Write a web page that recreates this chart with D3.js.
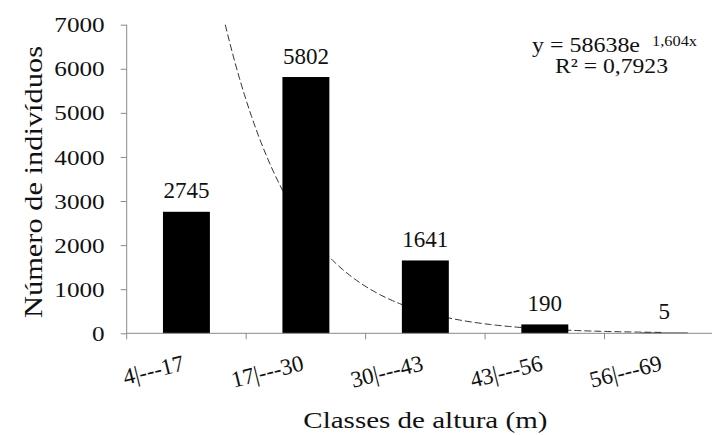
<!DOCTYPE html>
<html>
<head>
<meta charset="utf-8">
<script src="https://cdn.jsdelivr.net/npm/d3@7"></script>
<style>
  html, body { margin: 0; padding: 0; background: #fff; }
  svg { display: block; }
  svg text { font-family: "Liberation Serif", "Times New Roman", Times, serif; fill: #111; }
</style>
</head>
<body>
<svg id="chart" width="712" height="435" font-family="Liberation Serif"></svg>
<script>
// ---- data ----
const categories = ["4|---17", "17|---30", "30|---43", "43|---56", "56|---69"];
const counts = [2745, 5802, 1641, 190, 5];
const yTicks = [0, 1000, 2000, 3000, 4000, 5000, 6000, 7000];
// exponential trendline y = a * e^(b x), x = class index (1..5)
const trendA = 58638;
const trendB = -1.604;
const equationMain = "y = 58638e";
const equationExp = "1,604x";
const rSquaredText = "R² = 0,7923";
const xTitle = "Classes de altura (m)";
const yTitle = "Número de indivíduos";

// ---- layout ----
const FONT = "Liberation Serif";
const svg = d3.select("#chart");
const plot = { left: 126.7, right: 724, top: 24.7, bottom: 333.3 };
const axisColor = "#8a8a8a";

const x = d3.scaleBand()
  .domain(categories)
  .range([plot.left, plot.right])
  .paddingInner(0.607)
  .paddingOuter(0.3035);

const y = d3.scaleLinear().domain([0, 7000]).range([plot.bottom, plot.top]);

const step = x.step();
const gap = step - x.bandwidth();
const centers = categories.map(c => x(c) + x.bandwidth() / 2);
const xNum = d3.scaleLinear().domain([1, categories.length])
  .range([centers[0], centers[categories.length - 1]]);

// ---- trendline (behind bars) ----
const xStart = Math.log(trendA / 7000) / -trendB;
const trendPts = d3.range(xStart, categories.length + 0.0001, 0.02).map(v => [v, trendA * Math.exp(trendB * v)]);
svg.append("path")
  .datum(trendPts)
  .attr("fill", "none")
  .attr("stroke", "#333")
  .attr("stroke-width", 1)
  .attr("stroke-dasharray", "7,3")
  .attr("d", d3.line().x(d => xNum(d[0])).y(d => y(d[1])));

// ---- bars ----
svg.append("g").selectAll("rect")
  .data(categories.map((c, i) => ({ c, v: counts[i] })))
  .join("rect")
  .attr("x", d => x(d.c))
  .attr("width", x.bandwidth())
  .attr("y", d => y(d.v) - 0.5)
  .attr("height", d => y(0) - y(d.v) + 0.5)
  .attr("fill", "#000");

// ---- bar labels ----
svg.append("g").selectAll("text")
  .data(categories.map((c, i) => ({ c, v: counts[i] })))
  .join("text")
  .attr("font-family", FONT)
  .attr("x", d => x(d.c) + x.bandwidth() / 2)
  .attr("y", d => y(d.v) - 14)
  .attr("text-anchor", "middle")
  .attr("font-size", 23)
  .text(d => d.v);

// ---- y axis ----
const yAxis = d3.axisLeft(y).tickValues(yTicks).tickFormat(d3.format("d"))
  .tickSize(6).tickPadding(16).tickSizeOuter(0);
const gy = svg.append("g").attr("transform", `translate(${plot.left},0)`).call(yAxis)
  .attr("font-family", FONT);
gy.select(".domain").attr("stroke", axisColor).attr("d", `M0,${plot.top}V${plot.bottom + 6}`);
gy.selectAll(".tick line").attr("stroke", axisColor);
gy.selectAll(".tick text")
  .attr("font-size", 22)
  .attr("font-family", FONT)
  .attr("fill", "#111")
  .attr("textLength", d => String(d).length * 12.6)
  .attr("lengthAdjust", "spacingAndGlyphs");

// ---- x axis ----
const gx = svg.append("g");
gx.append("line")
  .attr("x1", plot.left).attr("x2", plot.right)
  .attr("y1", plot.bottom).attr("y2", plot.bottom)
  .attr("stroke", axisColor);
const boundaries = categories.map(c => x(c) - gap / 2).slice(1);
gx.selectAll("line.tk").data(boundaries).join("line").attr("class", "tk")
  .attr("x1", d => d).attr("x2", d => d)
  .attr("y1", plot.bottom).attr("y2", plot.bottom + 6)
  .attr("stroke", axisColor);
gx.selectAll("text").data(categories).join("text")
  .attr("font-family", FONT)
  .attr("text-anchor", "end")
  .attr("font-size", 23)
  .attr("transform", c => `translate(${x(c) + x.bandwidth() / 2 - 1},370) rotate(-14)`)
  .text(c => c);

// ---- axis titles ----
svg.append("text")
  .attr("font-family", FONT)
  .attr("x", (plot.left + plot.right) / 2)
  .attr("y", 428)
  .attr("text-anchor", "middle")
  .attr("font-size", 24)
  .attr("textLength", 244)
  .attr("lengthAdjust", "spacingAndGlyphs")
  .text(xTitle);

svg.append("text")
  .attr("font-family", FONT)
  .attr("transform", `translate(42,${(plot.top + plot.bottom) / 2 + 3}) rotate(-90)`)
  .attr("text-anchor", "middle")
  .attr("font-size", 25)
  .attr("textLength", 272)
  .attr("lengthAdjust", "spacingAndGlyphs")
  .text(yTitle);

// ---- equation ----
svg.append("text")
  .attr("font-family", FONT)
  .attr("x", 532).attr("y", 52)
  .attr("font-size", 21)
  .attr("textLength", 108)
  .attr("lengthAdjust", "spacingAndGlyphs")
  .text(equationMain);
svg.append("text")
  .attr("font-family", FONT)
  .attr("x", 652).attr("y", 46)
  .attr("font-size", 15)
  .attr("textLength", 45)
  .attr("lengthAdjust", "spacingAndGlyphs")
  .text(equationExp);
svg.append("text")
  .attr("font-family", FONT)
  .attr("x", 555).attr("y", 73)
  .attr("font-size", 21)
  .attr("textLength", 113)
  .attr("lengthAdjust", "spacingAndGlyphs")
  .text(rSquaredText);
</script>
</body>
</html>
